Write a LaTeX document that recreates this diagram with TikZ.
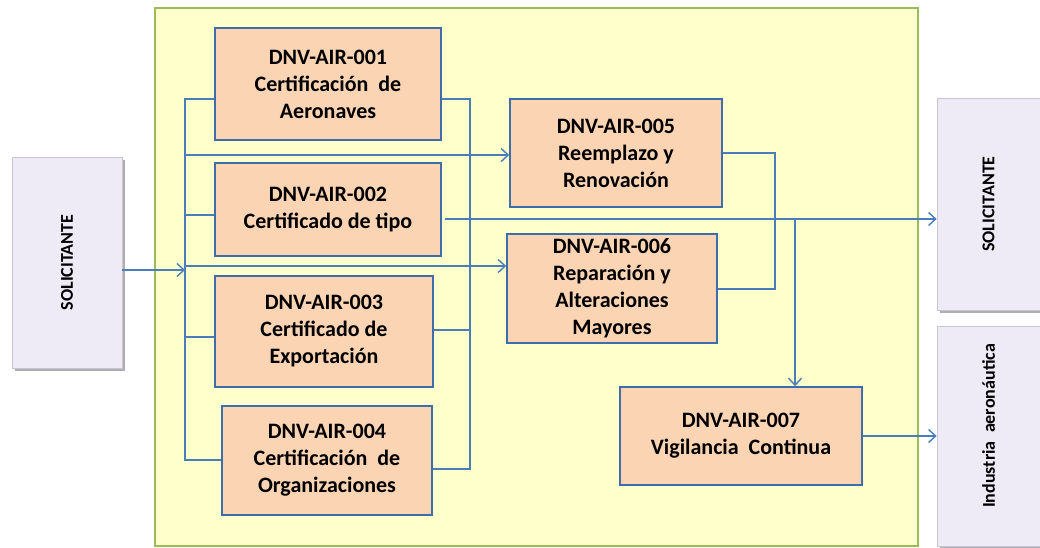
\documentclass[tikz,border=0pt]{standalone}
\usepackage{fontspec}
\setmainfont{Carlito}
\usetikzlibrary{arrows.meta,shadows}

\definecolor{frameyellow}{HTML}{FFFFCC}
\definecolor{framegreen}{HTML}{9BBB59}
\definecolor{boxfill}{HTML}{FBD4B4}
\definecolor{boxline}{HTML}{3F6DAA}
\definecolor{linkblue}{HTML}{4A7EBB}
\definecolor{lavender}{HTML}{EEEAF6}
\definecolor{lavedge}{HTML}{C9C4D6}

\tikzset{
  procbox/.style={draw=boxline, line width=1.6pt, fill=boxfill, inner sep=0pt,
    align=center, font=\bfseries\fontsize{22}{27}\selectfont},
  partybox/.style={draw=lavedge, line width=0.8pt, fill=lavender, inner sep=0pt,
    drop shadow={shadow xshift=3pt, shadow yshift=-3pt, fill=black!45, opacity=0.7}},
  sidetext/.style={rotate=90, font=\bfseries\fontsize{18}{20}\selectfont},
  conn/.style={draw=linkblue, line width=1.5pt},
  arr/.style={conn, -{Straight Barb[length=7pt,width=13pt,line width=1.4pt]}}
}

\begin{document}
\begin{tikzpicture}[x=1pt,y=-1pt]
  \useasboundingbox (0,0) rectangle (1040,548);
  \clip (0,0) rectangle (1040,548);
  \fill[white] (0,0) rectangle (1040,548);

  % process frame
  \draw[framegreen, line width=2pt, fill=frameyellow] (155,8) rectangle (918,546);

  % parties outside the frame
  \node[partybox, minimum width=110pt, minimum height=211pt] (sol1) at (67,262.5) {};
  \node[sidetext] at (sol1.center) {SOLICITANTE};
  \node[partybox, minimum width=103pt, minimum height=212pt] (sol2) at (988.5,204) {};
  \node[sidetext] at (sol2.center) {SOLICITANTE};
  \node[partybox, minimum width=103pt, minimum height=220pt] (ind) at (988.5,436) {};
  \node[sidetext] at ([yshift=10pt]ind.center) {Industria\ \ aeronáutica};

  % procedures
  \node[procbox, minimum width=226pt, minimum height=112pt] (b1) at (328,84)
    {DNV-AIR-001\\Certificación\ \ de\\Aeronaves};
  \node[procbox, minimum width=226pt, minimum height=93pt] (b2) at (328,209.5)
    {DNV-AIR-002\\Certificado de tipo};
  \node[procbox, minimum width=218pt, minimum height=111pt] (b3) at (324,331.5)
    {DNV-AIR-003\\Certificado de\\Exportación};
  \node[procbox, minimum width=210pt, minimum height=109pt] (b4) at (327,460.5)
    {DNV-AIR-004\\Certificación\ \ de\\Organizaciones};
  \node[procbox, minimum width=212pt, minimum height=108pt] (b5) at (616,153)
    {DNV-AIR-005\\Reemplazo y\\Renovación};
  \node[procbox, minimum width=210pt, minimum height=109pt] (b6) at (612,288.5)
    {DNV-AIR-006\\Reparación y\\Alteraciones\\Mayores};
  \node[procbox, minimum width=242pt, minimum height=98pt] (b7) at (741,436)
    {DNV-AIR-007\\Vigilancia\ \ Continua};

  % left distribution bus
  \coordinate (L1) at (185,99);
  \coordinate (L2) at (185,155);
  \coordinate (L3) at (185,215);
  \coordinate (L4) at (185,266);
  \coordinate (L5) at (185,337);
  \coordinate (L6) at (185,460);
  \coordinate (In) at (185,270);
  \draw[conn] (b1.west |- L1) -- (L1) -- (L6) -- (b4.west |- L6);
  \draw[conn] (L3) -- (b2.west |- L3);
  \draw[conn] (L5) -- (b3.west |- L5);
  \draw[arr] (L2) -- (b5.west |- L2);
  \draw[arr] (L4) -- (b6.west |- L4);
  \draw[arr] (sol1.east |- In) -- (In);

  % right collecting bus
  \coordinate (R1) at (470,99);
  \coordinate (R2) at (470,330);
  \coordinate (R3) at (470,469);
  \draw[conn] (b1.east |- R1) -- (R1) -- (R3) -- (b4.east |- R3);
  \draw[conn] (b3.east |- R2) -- (R2);

  % 005 / 006 joined
  \coordinate (K1) at (775,153);
  \coordinate (K2) at (775,289);
  \draw[conn] (b5.east |- K1) -- (K1) -- (K2) -- (b6.east |- K2);

  % outputs
  \coordinate (T) at (795,219);
  \coordinate (T0) at (445,219);
  \draw[arr] (T0) -- (sol2.west |- T);
  \draw[arr] (T) -- (b7.north -| T);
  \draw[arr] (b7.east) -- (ind.west |- b7.east);
\end{tikzpicture}
\end{document}
